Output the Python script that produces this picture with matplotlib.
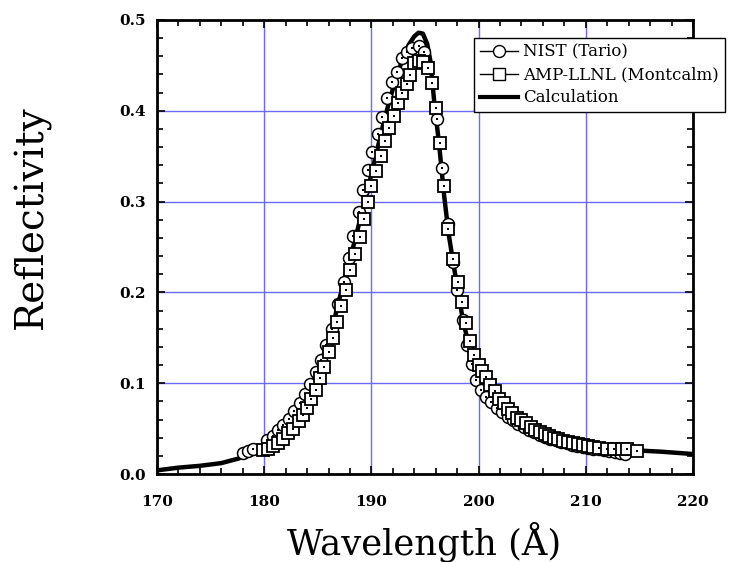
import matplotlib
matplotlib.use("Agg")
import matplotlib.pyplot as plt
from matplotlib.lines import Line2D
from matplotlib.ticker import MultipleLocator

# Calculation (solid black line)
calc_wl = [170.0, 172.0, 174.0, 176.0, 177.6, 178.5, 179.5, 180.0, 181.0, 182.0,
           183.0, 183.5, 184.0, 184.5, 185.0, 185.5, 186.0, 186.5, 187.0, 187.5,
           188.0, 188.5, 189.0, 189.5, 190.0, 190.5, 191.0, 191.5, 192.0, 192.5,
           193.0, 193.5, 194.0, 194.4, 194.8, 195.2, 195.5, 195.9, 196.3, 196.8,
           197.2, 197.6, 198.1, 198.5, 199.0, 199.5, 200.0, 201.0, 202.0, 203.0,
           204.0, 205.0, 206.0, 207.0, 208.0, 209.0, 210.0, 211.0, 212.0, 213.0,
           214.0, 215.2, 217.0, 220.0]
calc_refl = [0.004, 0.007, 0.009, 0.012, 0.017, 0.022, 0.027, 0.031, 0.039, 0.049,
             0.063, 0.072, 0.086, 0.100, 0.115, 0.130, 0.148, 0.168, 0.192, 0.215,
             0.237, 0.259, 0.283, 0.307, 0.330, 0.355, 0.380, 0.403, 0.424, 0.443,
             0.460, 0.473, 0.482, 0.486, 0.485, 0.474, 0.455, 0.405, 0.365, 0.305,
             0.265, 0.235, 0.200, 0.172, 0.146, 0.126, 0.110, 0.090, 0.076, 0.066,
             0.058, 0.051, 0.046, 0.042, 0.038, 0.035, 0.033, 0.031, 0.030, 0.029,
             0.028, 0.0257, 0.0246, 0.022]

# NIST (Tario) - circles
nist_wl = [178.0, 178.5, 179.0, 180.3, 180.8, 181.3, 181.8, 182.3, 182.8, 183.3,
           183.8, 184.3, 184.8, 185.3, 185.8, 186.3, 186.9, 187.4, 187.9, 188.3,
           188.8, 189.2, 189.7, 190.1, 190.6, 191.0, 191.5, 191.9, 192.4, 192.9,
           193.3, 193.8, 194.4, 194.9,
           196.1, 196.6, 197.1, 197.6, 198.0, 198.5, 198.9, 199.4, 199.8,
           200.2, 200.7, 201.2, 201.7, 202.2, 202.7, 203.2, 203.7, 204.2, 204.7,
           205.2, 205.7, 206.2, 206.7, 207.2, 207.7, 208.2, 208.7, 209.2, 209.7,
           210.2, 210.7, 211.2, 211.7, 212.2, 212.7, 213.2, 213.7]
nist_refl = [0.023, 0.025, 0.028, 0.037, 0.042, 0.048, 0.054, 0.061, 0.069, 0.078,
             0.088, 0.099, 0.112, 0.126, 0.142, 0.160, 0.187, 0.212, 0.238, 0.262,
             0.288, 0.313, 0.335, 0.355, 0.375, 0.393, 0.414, 0.432, 0.443, 0.458,
             0.465, 0.469, 0.471, 0.465,
             0.391, 0.337, 0.275, 0.234, 0.203, 0.170, 0.142, 0.121, 0.104,
             0.093, 0.085, 0.079, 0.073, 0.068, 0.063, 0.059, 0.055, 0.052, 0.049,
             0.046, 0.043, 0.041, 0.039, 0.037, 0.035, 0.034, 0.032, 0.031, 0.030,
             0.029, 0.028, 0.027, 0.026, 0.025, 0.024, 0.023, 0.022]

# AMP-LLNL (Montcalm) - squares
amp_wl = [179.9, 180.4, 180.85, 181.3, 181.8, 182.25, 182.7, 183.2, 183.6, 184.0,
          184.4, 184.8, 185.2, 185.6, 186.05, 186.4, 186.8, 187.2, 187.65, 188.05,
          188.5, 188.9, 189.3, 189.7, 190.0, 190.4, 190.85, 191.25, 191.6, 192.1,
          192.5, 192.9, 193.3, 193.6, 193.95, 194.4, 194.8, 195.3, 195.65, 196.0,
          196.4, 196.75, 197.15, 197.6, 198.05, 198.45, 198.85, 199.2, 199.55, 200.0,
          200.35, 200.7, 201.1, 201.5, 201.9, 202.4, 202.75, 203.15, 203.6, 204.0,
          204.4, 204.85, 205.25, 205.7, 206.2, 206.6, 207.0, 207.4, 207.9, 208.35,
          208.8, 209.3, 209.75, 210.2, 210.7, 211.2, 211.95, 212.6, 213.4, 213.85,
          214.8]
amp_refl = [0.026, 0.028, 0.031, 0.034, 0.039, 0.045, 0.050, 0.058, 0.065, 0.073,
            0.083, 0.093, 0.106, 0.118, 0.134, 0.150, 0.167, 0.185, 0.203, 0.225,
            0.242, 0.261, 0.281, 0.300, 0.317, 0.334, 0.350, 0.367, 0.381, 0.394,
            0.409, 0.420, 0.430, 0.439, 0.453, 0.455, 0.454, 0.447, 0.431, 0.403,
            0.364, 0.317, 0.270, 0.237, 0.211, 0.189, 0.166, 0.147, 0.131, 0.120,
            0.113, 0.107, 0.098, 0.091, 0.083, 0.078, 0.072, 0.067, 0.062, 0.0595,
            0.056, 0.052, 0.0485, 0.0466, 0.044, 0.042, 0.040, 0.038, 0.0367, 0.035,
            0.034, 0.0327, 0.0316, 0.031, 0.030, 0.029, 0.028, 0.0275, 0.028, 0.0275,
            0.025]

SERIF = "DejaVu Serif"
GRID_BLUE = "#6a6aff"

fig = plt.figure(figsize=(7.38, 5.62), dpi=100)
ax = fig.add_axes([157 / 738, 1 - 474 / 562, (693 - 157) / 738, (474 - 20) / 562])

ax.plot(calc_wl, calc_refl, color="black", lw=3.2, solid_joinstyle="round", zorder=2.6)

# markers drawn one at a time so later points sit on top of earlier ones
for x, y in zip(nist_wl, nist_refl):
    ax.plot([x], [y], marker="o", ms=8.6, mfc="white", mec="black", mew=1.1,
            ls="none", zorder=3)
    ax.plot([x], [y], marker="s", ms=2.0, mfc="black", mec="black", mew=0,
            ls="none", zorder=3)
for x, y in zip(amp_wl, amp_refl):
    ax.plot([x], [y], marker="s", ms=8.2, mfc="white", mec="black", mew=1.3,
            ls="none", zorder=3.5)
    ax.plot([x], [y], marker="s", ms=2.0, mfc="black", mec="black", mew=0,
            ls="none", zorder=3.5)

ax.set_xlim(170, 220)
ax.set_ylim(0, 0.5)
ax.xaxis.set_major_locator(MultipleLocator(10))
ax.xaxis.set_minor_locator(MultipleLocator(2))
ax.yaxis.set_major_locator(MultipleLocator(0.1))
ax.yaxis.set_minor_locator(MultipleLocator(0.02))
ax.xaxis.set_major_formatter(plt.FuncFormatter(lambda v, p: f"{v:.0f}"))
ax.yaxis.set_major_formatter(plt.FuncFormatter(lambda v, p: f"{v:.1f}"))

ax.grid(True, which="major", color=GRID_BLUE, lw=1.0, zorder=1)
ax.set_axisbelow(True)
for s in ax.spines.values():
    s.set_linewidth(2.0)

ax.tick_params(which="both", direction="in", top=True, right=True, width=1.2)
ax.tick_params(which="major", length=6)
ax.tick_params(which="minor", length=4.5)
ax.tick_params(axis="x", which="major", pad=15)
ax.tick_params(axis="y", which="major", pad=8)
for lab in ax.get_xticklabels() + ax.get_yticklabels():
    lab.set_fontfamily(SERIF)
    lab.set_fontweight("bold")
    lab.set_fontsize(11)

fig.text(32 / 738, 1 - 217 / 562, "Reflectivity", rotation=90, ha="center",
         va="center", family=SERIF, fontsize=28)
fig.text(424 / 738, 1 - 542 / 562, "Wavelength (Å)", ha="center", va="center",
         family=SERIF, fontsize=25.5)

handles = [
    Line2D([], [], color="black", lw=1, marker="o", ms=8.6, mfc="white", mec="black"),
    Line2D([], [], color="black", lw=1, marker="s", ms=8.2, mfc="white", mec="black"),
    Line2D([], [], color="black", lw=3),
]
leg = ax.legend(handles, ["NIST (Tario)", "AMP-LLNL (Montcalm)", "Calculation"],
                loc="upper left", bbox_to_anchor=(474 / 738, 1 - 38 / 562),
                bbox_transform=fig.transFigure, borderaxespad=0, fancybox=False,
                framealpha=1, edgecolor="black", handlelength=2.3, handletextpad=0.3,
                labelspacing=0.35, borderpad=0.35,
                prop={"family": SERIF, "size": 12})
leg.get_frame().set_linewidth(1.0)
leg.set_zorder(10)

fig.savefig("out.png", dpi=100)
